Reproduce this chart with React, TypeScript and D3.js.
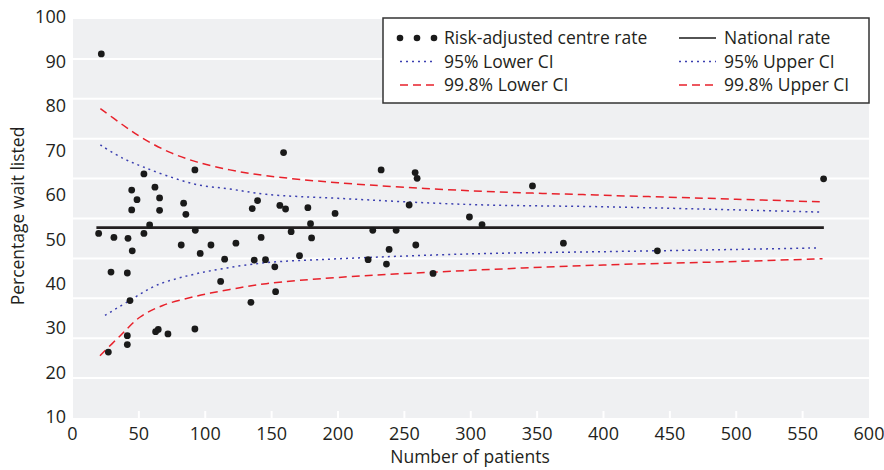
import React from 'react';
import * as d3 from 'd3';

// centre points: number of patients / risk-adjusted rate (%)
const centreN = [21.7, 19.7, 27, 29, 31.2, 41.3, 41.3, 41.3, 41.8, 43.3, 44.6, 44.6, 45.0, 48.6, 53.8, 53.8,
  58.1, 62.1, 62.6, 64.6, 65.6, 65.6, 71.9, 81.9, 83.7, 85.4, 92.2, 92.5, 92.2, 96.2, 104.3, 111.6,
  114.6, 123.1, 134.4, 135.4, 136.9, 139.4, 142.1, 145.4, 152.4, 153, 156.2, 159, 160.5, 164.7, 171,
  177.3, 179.3, 180.1, 197.8, 222.7, 226.2, 232.5, 236.5, 238.5, 243.8, 253.6, 258.1, 258.6, 259.6,
  271.6, 299, 308.5, 346.5, 369.8, 440.6, 565.8];
const centreRate = [91.7, 51.3, 24.6, 42.6, 50.4, 42.4, 28.3, 26.3, 50.2, 36.2, 61.05, 56.6, 47.4, 58.9, 64.7, 51.3,
  53.2, 61.7, 29.2, 29.7, 59.3, 56.5, 28.7, 48.7, 58.1, 55.6, 65.6, 52.0, 29.8, 46.8, 48.7, 40.5,
  45.5, 49.1, 35.8, 56.9, 45.3, 58.7, 50.4, 45.4, 43.8, 38.2, 57.6, 69.5, 56.8, 51.7, 46.3,
  57.1, 53.5, 50.3, 55.8, 45.4, 52.0, 65.6, 44.4, 47.7, 52.0, 57.7, 65.0, 48.7, 63.7,
  42.3, 55.0, 53.3, 62.0, 49.1, 47.4, 63.6];

const nationalN = [18, 566];
const nationalRate = [52.6, 52.6];

const upper998N = [21, 38, 53, 73, 93.5, 118.6, 146, 200, 300, 400, 500, 565];
const upper998 = [79.4, 75.7, 72.7, 69.6, 67.4, 65.6, 64.3, 62.7, 60.9, 59.9, 59.0, 58.4];
const upper95N = [21, 38, 53, 71, 93.5, 118.6, 146, 200, 300, 400, 500, 563];
const upper95 = [71.2, 68.2, 66.3, 64.3, 62.3, 61.3, 60.1, 59.2, 57.8, 57.3, 56.6, 56.1];
const lower95N = [24.5, 43, 63, 88.5, 113.5, 145, 200, 300, 400, 500, 562];
const lower95 = [32.85, 36.2, 39.6, 41.9, 43.4, 44.7, 45.6, 46.7, 47.2, 47.7, 48.05];
const lower998N = [20.7, 36, 51, 68, 93.5, 118.6, 146, 200, 300, 400, 500, 565];
const lower998 = [23.8, 28.3, 32.5, 35.1, 37.2, 38.7, 40.0, 41.4, 43.0, 44.2, 45.0, 45.6];

const xTicks = [0, 50, 100, 150, 200, 250, 300, 350, 400, 450, 500, 550, 600];
const yTicks = [10, 20, 30, 40, 50, 60, 70, 80, 90, 100];

const font = '"Open Sans", sans-serif';
const blue = '#3b3fb0';
const red = '#e8212b';

export default function App() {
  const width = 884;
  const height = 470;
  const left = 73, right = 869, top = 19, bottom = 418;

  const x = d3.scaleLinear().domain([0, 600]).range([left - 0.5, right]);
  const y = d3.scaleLinear().domain([10, 100]).range([bottom - 1, top - 2]);
  // background bands (10 equal bands, not aligned with the labels)
  const band = d3.scaleLinear().domain([0, 10]).range([bottom, top]);

  const line = (ns: number[], vs: number[]) =>
    d3.line<number>()
      .x((_, i) => x(ns[i]))
      .y(d => y(d))
      .curve(d3.curveCatmullRom.alpha(0.5))(vs) || '';

  const curves = [
    { n: upper998N, v: upper998, color: red, dash: '8,5' },
    { n: lower998N, v: lower998, color: red, dash: '8,5' },
    { n: upper95N, v: upper95, color: blue, dash: '2,4' },
    { n: lower95N, v: lower95, color: blue, dash: '2,4' },
  ];

  const legendX = 383, legendY = 18;
  const legendRows = [
    { label: 'Risk-adjusted centre rate', type: 'dots' },
    { label: '95% Lower CI', type: 'blue' },
    { label: '99.8% Lower CI', type: 'red' },
    { label: 'National rate', type: 'black' },
    { label: '95% Upper CI', type: 'blue' },
    { label: '99.8% Upper CI', type: 'red' },
  ];

  const sample = (type: string, x0: number, x1: number, yy: number) => {
    if (type === 'dots') {
      return [x0, (x0 + x1) / 2, x1].map((cx, i) => (
        <circle key={i} cx={cx} cy={yy} r={3.3} fill="#1a1a1a" />
      ));
    }
    const stroke = type === 'blue' ? blue : type === 'red' ? red : '#1a1a1a';
    const dash = type === 'blue' ? '2,4' : type === 'red' ? '8,5' : undefined;
    return <line x1={x0} x2={x1} y1={yy} y2={yy} stroke={stroke} strokeWidth={1.5} strokeDasharray={dash} />;
  };

  return (
    <svg width={width} height={height} style={{ position: 'absolute', left: 0, top: 0, background: '#fff' }}
      fontFamily={font}>
      <rect x={left} y={top} width={right - left} height={bottom - top} fill="#eff0f2" />
      {d3.range(1, 10).map(b => (
        <line key={b} x1={left} x2={right} y1={band(b)} y2={band(b)} stroke="#fff" strokeWidth={2} />
      ))}
      {xTicks.slice(1, -1).map(t => (
        <line key={t} x1={x(t)} x2={x(t)} y1={bottom} y2={bottom - 7} stroke="#fff" strokeWidth={2} />
      ))}

      {/* axis labels */}
      {yTicks.map(t => (
        <text key={t} x={66} y={y(t)} dy="0.35em" textAnchor="end" fontSize={18} fill="#231f20">{t}</text>
      ))}
      {xTicks.map(t => (
        <text key={t} x={x(t)} y={440} textAnchor="middle" fontSize={18} fill="#231f20">{t}</text>
      ))}
      <text x={470} y={463} textAnchor="middle" fontSize={17.5} fill="#231f20">Number of patients</text>
      <text transform={`translate(24,${216}) rotate(-90)`} textAnchor="middle" fontSize={17.5} fill="#231f20">
        Percentage wait listed
      </text>

      {/* control limits */}
      {curves.map((c, i) => (
        <path key={i} d={line(c.n, c.v)} fill="none" stroke={c.color} strokeWidth={1.5} strokeDasharray={c.dash} />
      ))}
      <path d={line(nationalN, nationalRate)} fill="none" stroke="#231f20" strokeWidth={2.6} />

      {centreN.map((n, i) => (
        <circle key={i} cx={x(n)} cy={y(centreRate[i])} r={3.4} fill="#1a1a1a" />
      ))}

      {/* legend */}
      <rect x={legendX} y={legendY} width={486} height={85} fill="#fff" stroke="#333" strokeWidth={1.5} />
      {legendRows.map((r, i) => {
        const col = Math.floor(i / 3);
        const row = i % 3;
        const yy = 38 + row * 23.5;
        const sx = col === 0 ? 400 : 679;
        const ex = col === 0 ? 434 : 716;
        const tx = col === 0 ? 444 : 724;
        return (
          <g key={i}>
            {sample(r.type, sx, ex, yy)}
            <text x={tx} y={yy} dy="0.35em" fontSize={17.5} fill="#231f20">{r.label}</text>
          </g>
        );
      })}
    </svg>
  );
}
